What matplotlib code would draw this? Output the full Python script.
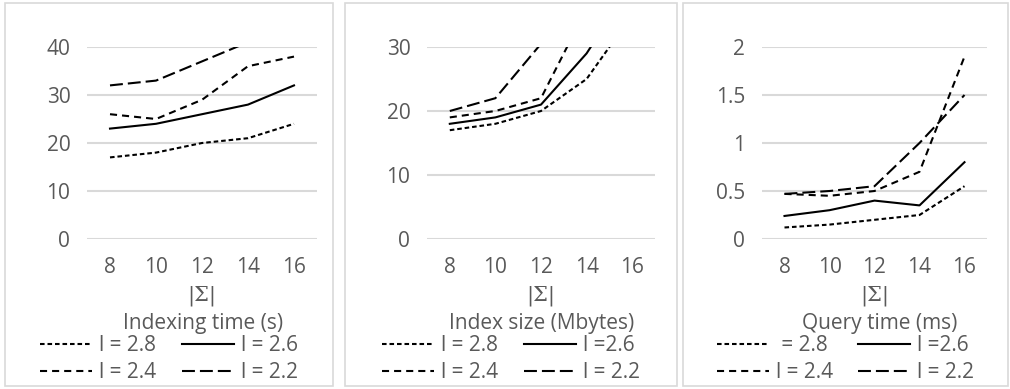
import matplotlib.pyplot as plt
from matplotlib.patches import Rectangle

W, H = 1010, 389

sigma = [8, 10, 12, 14, 16]

# Indexing time (s)
idx_time_28 = [17, 18, 20, 21, 24]
idx_time_26 = [23, 24, 26, 28, 32]
idx_time_24 = [26, 25, 29, 36, 38]
idx_time_22 = [32, 33, 37, 41, 45]

# Index size (Mbytes)
idx_size_28 = [17, 18, 20, 25, 35]
idx_size_26 = [18, 19, 21, 29, 40]
idx_size_24 = [19, 20, 22, 36, 48]
idx_size_22 = [20, 22, 30.5, 40, 50]

# Query time (ms)
query_28 = [0.12, 0.15, 0.2, 0.25, 0.55]
query_26 = [0.24, 0.3, 0.4, 0.35, 0.8]
query_24 = [0.47, 0.45, 0.5, 0.7, 1.9]
query_22 = [0.47, 0.5, 0.55, 1.0, 1.5]

titles = ['Indexing time (s)', 'Index size (Mbytes)', 'Query time (ms)']
labels = [
    ['l = 2.8', 'l = 2.6', 'l = 2.4', 'l = 2.2'],
    ['l = 2.8', 'l =2.6', 'l = 2.4', 'l = 2.2'],
    [' = 2.8', 'l =2.6', 'l = 2.4', 'l = 2.2'],
]
yticks = [[0, 10, 20, 30, 40], [0, 10, 20, 30], [0, 0.5, 1, 1.5, 2]]
yticklabels = [['0', '10', '20', '30', '40'], ['0', '10', '20', '30'],
               ['0', '0.5', '1', '1.5', '2']]
ylims = [40, 30, 2]
data = [
    [idx_time_28, idx_time_26, idx_time_24, idx_time_22],
    [idx_size_28, idx_size_26, idx_size_24, idx_size_22],
    [query_28, query_26, query_24, query_22],
]

styles = [(0, (2.2, 1.4)), '-', (0, (3.4, 2.4)), (0, (6.2, 2.4))]

# pixel layout: plot area left/right, panel border left/right, title center
plot_x = [(87, 317), (427, 655), (762, 987)]
border_x = [(5, 333), (345, 677), (683, 1008)]
title_cx = [203, 542, 880]

txt = '#595959'
grid = '#d9d9d9'
fs = 15
plt.rcParams['font.family'] = ['Open Sans', 'DejaVu Sans']

fig = plt.figure(figsize=(W / 100, H / 100), dpi=100)

for i in range(3):
    bx0, bx1 = border_x[i]
    fig.patches.append(Rectangle((bx0 / W, 1 - 386 / H), (bx1 - bx0) / W, 383 / H,
                                 transform=fig.transFigure, fill=False,
                                 edgecolor=grid, linewidth=1.2))

    x0, x1 = plot_x[i]
    ax = fig.add_axes([x0 / W, 1 - 239 / H, (x1 - x0) / W, 192 / H])
    for series, ls, lab in zip(data[i], styles, labels[i]):
        ax.plot(sigma, series, color='black', linestyle=ls, linewidth=1.5, label=lab)
    ax.set_xlim(7, 17)
    ax.set_ylim(0, ylims[i])
    ax.set_xticks(sigma)
    ax.set_yticks(yticks[i])
    ax.set_yticklabels(yticklabels[i])
    ax.yaxis.grid(True, color=grid, linewidth=1.5)
    ax.set_axisbelow(True)
    for s in ax.spines.values():
        s.set_visible(False)
    ax.tick_params(axis='both', length=0, labelsize=fs, colors=txt)
    ax.tick_params(axis='x', pad=13)
    ax.tick_params(axis='y', pad=12)

    cx = (x0 + x1) / 2
    fig.text(cx / W, 1 - 296 / H, '|Σ|', family='DejaVu Serif', fontsize=15,
             color=txt, ha='center', va='center')
    fig.text(title_cx[i] / W, 1 - 323 / H, titles[i], fontsize=fs,
             color=txt, ha='center', va='center')

    # reorder so that rows read 2.8, 2.6 / 2.4, 2.2
    handles, labs = ax.get_legend_handles_labels()
    order = [0, 2, 1, 3]
    ax.legend([handles[k] for k in order], [labs[k] for k in order], ncol=2,
              loc='upper center', frameon=False,
              bbox_to_anchor=((bx0 + bx1) / 2 / W, 1 - 335 / H),
              bbox_transform=fig.transFigure, fontsize=fs, labelcolor=txt,
              handlelength=2.5, handletextpad=0.35, columnspacing=1.2,
              labelspacing=0.3, borderaxespad=0, borderpad=0)

fig.savefig('out.png', dpi=100)
